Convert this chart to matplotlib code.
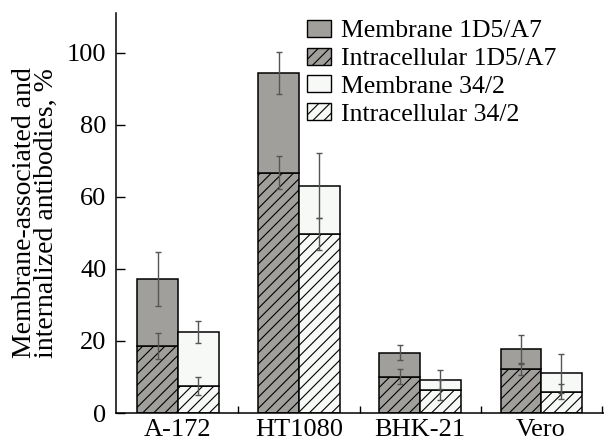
import numpy as np
import matplotlib
matplotlib.use("Agg")
import matplotlib.pyplot as plt
from matplotlib.patches import Patch

plt.rcParams['font.family'] = ['Liberation Serif', 'DejaVu Serif']
plt.rcParams['hatch.linewidth'] = 0.8

cells = ['A-172', 'HT1080', 'BHK-21', 'Vero']

# segment heights, %
int_1d5 = np.array([18.6, 66.7, 10.1, 12.2])
mem_1d5 = np.array([18.6, 27.7, 6.65, 5.5])
int_34 = np.array([7.5, 49.7, 6.4, 5.9])
mem_34 = np.array([15.0, 13.4, 2.8, 5.1])

# error bars
err_int_1d5 = [3.5, 4.5, 2.0, 1.7]
err_mem_1d5 = [7.5, 5.9, 2.1, 4.0]
err_int_34 = [2.5, 4.4, 2.8, 2.1]
err_mem_34 = [3.1, 9.0, 2.6, 5.5]

gray = '#a09f9b'
white = '#f7f9f7'
ecol = '#555555'

fig = plt.figure(figsize=(6.04, 4.43), dpi=100)
ax = fig.add_axes([116/604, 30/443, 488/604, 400/443])

x = np.arange(len(cells))
w = 0.335
x1 = x - w/2
x2 = x + w/2

kw = dict(width=w, edgecolor='black', linewidth=1.1)
ax.bar(x1, int_1d5, color=gray, hatch='///', **kw)
ax.bar(x1, mem_1d5, bottom=int_1d5, color=gray, **kw)
ax.bar(x2, int_34, color=white, hatch='///', **kw)
ax.bar(x2, mem_34, bottom=int_34, color=white, **kw)

ekw = dict(fmt='none', ecolor=ecol, elinewidth=1.0, capsize=2.5, capthick=1.0)
ax.errorbar(x1, int_1d5, yerr=err_int_1d5, **ekw)
ax.errorbar(x1, int_1d5 + mem_1d5, yerr=err_mem_1d5, **ekw)
ax.errorbar(x2, int_34, yerr=err_int_34, **ekw)
ax.errorbar(x2, int_34 + mem_34, yerr=err_mem_34, **ekw)

ax.set_xlim(-0.512, 3.52)
ax.set_ylim(0, 111)
ax.set_yticks([0, 20, 40, 60, 80, 100])
ax.set_xticks(x)
ax.set_xticklabels(cells)
ax.set_xticks(x + 0.5, minor=True)
ax.tick_params(axis='x', which='major', length=0, labelsize=19, pad=4)
ax.tick_params(axis='x', which='minor', direction='in', length=5, width=1)
ax.tick_params(axis='y', direction='in', length=6.5, width=1, labelsize=19, pad=7)

for s in ['top', 'right']:
    ax.spines[s].set_visible(False)
for s in ['left', 'bottom']:
    ax.spines[s].set_linewidth(1.1)

ax.set_ylabel('Membrane-associated and\ninternalized antibodies, %',
              fontsize=20, linespacing=0.85)
ax.yaxis.set_label_coords(-0.117, 0.5)

handles = [
    Patch(facecolor=gray, edgecolor='black', label='Membrane 1D5/A7'),
    Patch(facecolor=gray, edgecolor='black', hatch='///', label='Intracellular 1D5/A7'),
    Patch(facecolor=white, edgecolor='black', label='Membrane 34/2'),
    Patch(facecolor=white, edgecolor='black', hatch='///', label='Intracellular 34/2'),
]
ax.legend(handles=handles, loc='upper left', bbox_to_anchor=(0.391, 0.983),
          frameon=False, fontsize=18.5, handlelength=0.95, handleheight=0.65,
          handletextpad=0.4, labelspacing=0.2, borderpad=0, borderaxespad=0)

fig.savefig('out.png', dpi=100)
